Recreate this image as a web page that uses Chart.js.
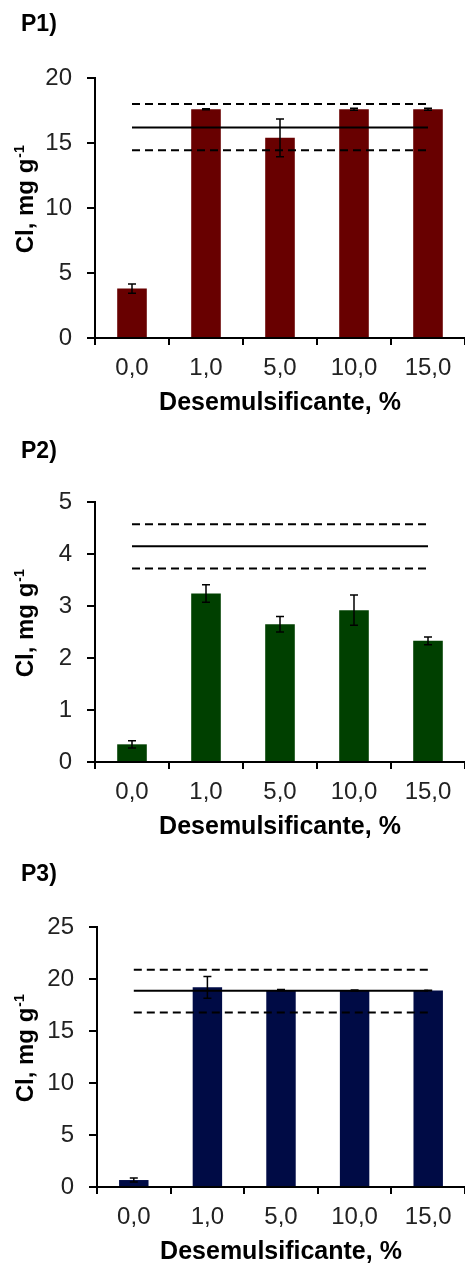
<!DOCTYPE html>
<html>
<head>
<meta charset="utf-8">
<script src="https://cdn.jsdelivr.net/npm/chart.js@4.4.1/dist/chart.umd.min.js"></script>
<style>
  body { margin: 0; background: #fff; }
  .wrap { position: relative; width: 465px; height: 1267px; overflow: hidden; }
  canvas { position: absolute; left: 0; }
</style>
</head>
<body>
<div class="wrap">
  <canvas id="p1" width="465" height="418" style="top:0px"></canvas>
  <canvas id="p2" width="465" height="418" style="top:424px"></canvas>
  <canvas id="p3" width="465" height="418" style="top:849px"></canvas>
</div>
<script>
const categories = ['0,0', '1,0', '5,0', '10,0', '15,0'];

// P1
const p1Values = [3.8, 17.6, 15.4, 17.6, 17.6];
const p1Errors = [0.35, 0.04, 1.45, 0.08, 0.08];
const p1Band = [14.45, 16.2, 18.0];   // lower, mean, upper

// P2
const p2Values = [0.34, 3.24, 2.65, 2.92, 2.33];
const p2Errors = [0.07, 0.17, 0.15, 0.29, 0.075];
const p2Band = [3.72, 4.15, 4.57];

// P3
const p3Values = [0.67, 19.2, 18.95, 18.9, 18.9];
const p3Errors = [0.2, 1.05, 0.05, 0.05, 0.03];
const p3Band = [16.78, 18.87, 20.9];

const FONT = '"Liberation Sans", Arial, sans-serif';
Chart.defaults.font.family = FONT;

// error bars on top of the bars, positioned with the chart's own scales
const errorBars = {
  id: 'errorBars',
  afterDatasetsDraw(chart, args, opts) {
    const meta = chart.getDatasetMeta(0);
    const y = chart.scales.y;
    const ctx = chart.ctx;
    ctx.save();
    ctx.strokeStyle = '#000';
    ctx.lineWidth = 1.5;
    meta.data.forEach((bar, i) => {
      const v = opts.values[i], e = opts.errors[i];
      const top = y.getPixelForValue(v + e);
      const bot = y.getPixelForValue(v - e);
      ctx.beginPath();
      ctx.moveTo(bar.x, top); ctx.lineTo(bar.x, bot);
      ctx.moveTo(bar.x - 4, top); ctx.lineTo(bar.x + 4, top);
      ctx.moveTo(bar.x - 4, bot); ctx.lineTo(bar.x + 4, bot);
      ctx.stroke();
    });
    ctx.restore();
  }
};

// panel label and y title (with superscript)
const panelText = {
  id: 'panelText',
  afterDraw(chart, args, opts) {
    const ctx = chart.ctx;
    const area = chart.chartArea;
    ctx.save();
    ctx.fillStyle = '#000';
    ctx.font = 'bold 23px ' + FONT;
    ctx.textBaseline = 'middle';
    ctx.fillText(opts.label, 21, opts.labelY);

    ctx.translate(33, (area.top + area.bottom) / 2);
    ctx.rotate(-Math.PI / 2);
    ctx.textBaseline = 'alphabetic';
    ctx.font = 'bold 24px ' + FONT;
    const main = 'Cl, mg g';
    const w = ctx.measureText(main).width;
    const start = -w / 2 + 2;
    ctx.fillText(main, start, 0);
    ctx.font = 'bold 14px ' + FONT;
    ctx.fillText('-1', start + w + 1, -9);
    ctx.restore();
  }
};

function bandLine(value, dashed) {
  return {
    type: 'line',
    data: [{x: categories[0], y: value}, {x: categories[4], y: value}],
    borderColor: '#000',
    borderWidth: 2,
    borderDash: dashed ? [8, 5] : [],
    pointRadius: 0,
    fill: false,
    order: 1
  };
}

function makePanel(id, label, labelY, values, errors, band, color, yMax, yStep, yWidth) {
  new Chart(document.getElementById(id), {
    type: 'bar',
    data: {
      labels: categories,
      datasets: [
        {
          data: values,
          backgroundColor: color,
          barPercentage: 0.4,
          categoryPercentage: 1,
          order: 2
        },
        bandLine(band[2], true),
        bandLine(band[1], false),
        bandLine(band[0], true)
      ]
    },
    options: {
      responsive: false,
      animation: false,
      devicePixelRatio: 1,
      layout: { padding: { top: 78, left: 0, right: 0, bottom: 0 } },
      plugins: {
        legend: { display: false },
        tooltip: { enabled: false },
        errorBars: { values: values, errors: errors },
        panelText: { label: label, labelY: labelY }
      },
      scales: {
        x: {
          grid: { drawOnChartArea: false, tickLength: 7, color: '#000', lineWidth: 2, offset: true },
          border: { color: '#000', width: 2 },
          ticks: { color: '#222', font: { size: 24 }, padding: 9, maxRotation: 0 },
          title: {
            display: true,
            text: 'Desemulsificante, %',
            color: '#000',
            font: { size: 25, weight: 'bold' },
            padding: { top: 0, bottom: 0 }
          },
          afterFit(scale) { scale.height = 80; }
        },
        y: {
          min: 0,
          max: yMax,
          grid: { drawOnChartArea: false, tickLength: 8, color: '#000', lineWidth: 2 },
          border: { color: '#000', width: 2 },
          ticks: { stepSize: yStep, color: '#222', font: { size: 24 }, padding: 15 },
          afterFit(scale) { scale.width = yWidth; }
        }
      }
    },
    plugins: [errorBars, panelText]
  });
}

makePanel('p1', 'P1)', 25, p1Values, p1Errors, p1Band, '#680000', 20, 5, 95);
makePanel('p2', 'P2)', 28, p2Values, p2Errors, p2Band, '#004000', 5, 1, 95);
makePanel('p3', 'P3)', 26, p3Values, p3Errors, p3Band, '#000b45', 25, 5, 97);
</script>
</body>
</html>
